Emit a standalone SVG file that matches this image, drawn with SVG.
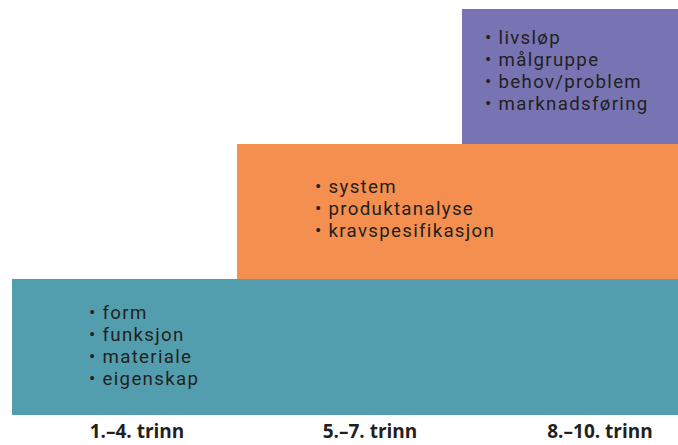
<svg xmlns="http://www.w3.org/2000/svg" width="678" height="445" viewBox="0 0 678 445">
<style>
.t{font-family:Roboto,"Open Sans","DejaVu Sans",sans-serif;font-size:18.7px;letter-spacing:1.3px;fill:#231f20}
.b{font-family:"Open Sans","Noto Sans","DejaVu Sans",sans-serif;font-size:19px;font-weight:bold;fill:#231f20;text-anchor:middle}
</style>
<rect width="678" height="445" fill="#ffffff"/>
<g id="step3">
<rect x="462" y="9" width="216" height="135" fill="#7874b4"/>
<text class="t"><tspan x="485" y="44">• livsløp</tspan><tspan x="485" y="66">• målgruppe</tspan><tspan x="485" y="88">• behov/problem</tspan><tspan x="485" y="110">• marknadsføring</tspan></text>
</g>
<g id="step2">
<rect x="237" y="144" width="441" height="135" fill="#f58f50"/>
<text class="t"><tspan x="315" y="193">• system</tspan><tspan x="315" y="215">• produktanalyse</tspan><tspan x="315" y="237">• kravspesifikasjon</tspan></text>
</g>
<g id="step1">
<rect x="12" y="279" width="666" height="136" fill="#539eae"/>
<text class="t"><tspan x="89" y="319">• form</tspan><tspan x="89" y="341">• funksjon</tspan><tspan x="89" y="363">• materiale</tspan><tspan x="89" y="385">• eigenskap</tspan></text>
</g>
<g id="labels">
<text class="b" x="137" y="438">1.–4. trinn</text>
<text class="b" x="370" y="438">5.–7. trinn</text>
<text class="b" x="600" y="438">8.–10. trinn</text>
</g>
</svg>
